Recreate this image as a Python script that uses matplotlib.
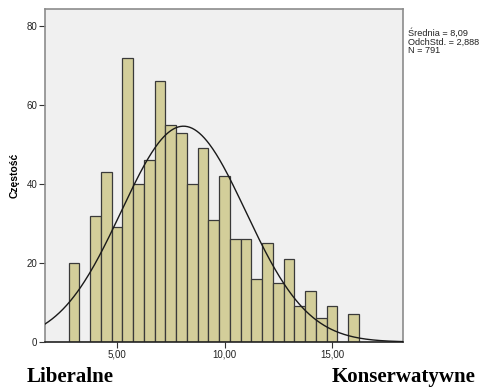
import numpy as np
import matplotlib.pyplot as plt

centers = [3.0, 3.5, 4.0, 4.5, 5.0, 5.5, 6.0, 6.5, 7.0, 7.5, 8.0, 8.5, 9.0,
           9.5, 10.0, 10.5, 11.0, 11.5, 12.0, 12.5, 13.0, 13.5, 14.0, 14.5,
           15.0, 15.5, 16.0]
counts = [20, 0, 32, 43, 29, 72, 40, 46, 66, 55, 53, 40, 49,
          31, 42, 26, 26, 16, 25, 15, 21, 9, 13, 6,
          9, 0, 7]
mean = 8.09
sd = 2.888
n = 791
bin_w = 0.5

fig = plt.figure(figsize=(4.83, 3.89), dpi=100)
ax = fig.add_axes([45 / 483, 1 - 342 / 389, 358 / 483, 333 / 389])
ax.set_facecolor("#f0f0f0")

ax.bar(centers, counts, width=bin_w, color="#d3ce9a", edgecolor="#3a3a3a",
       linewidth=0.9, zorder=2)

# normal curve scaled to counts
x = np.linspace(1.65, 18.3, 300)
y = n * bin_w / (sd * np.sqrt(2 * np.pi)) * np.exp(-0.5 * ((x - mean) / sd) ** 2)
ax.plot(x, y, color="#1a1a1a", linewidth=1.0, zorder=3)

ax.set_xlim(1.65, 18.3)
ax.set_ylim(0, 84.3)
ax.set_xticks([5, 10, 15])
ax.set_xticklabels(["5,00", "10,00", "15,00"])
ax.set_yticks([0, 20, 40, 60, 80])
ax.tick_params(axis="both", labelsize=7, length=4, width=0.8, color="#333333",
               labelcolor="#222222", pad=1.5)
for s in ["top", "right", "left"]:
    ax.spines[s].set_color("#8c8c8c")
    ax.spines[s].set_linewidth(1.2)
ax.spines["bottom"].set_color("#222222")
ax.spines["bottom"].set_linewidth(1.2)
for lab in ax.get_xticklabels() + ax.get_yticklabels():
    lab.set_family("Liberation Sans")

ax.set_ylabel("Częstość", fontsize=7.5, fontweight="bold", family="Liberation Sans",
              labelpad=5)

fig.text(408 / 483, 1 - 28 / 389,
         "Średnia = 8,09\nOdchStd. = 2,888\nN = 791",
         fontsize=6.6, family="Liberation Sans", va="top", ha="left",
         linespacing=0.95, color="#222222")

fig.text(27 / 483, 0.005, "Liberalne", fontsize=15,
         family="Liberation Serif", fontweight="bold", va="bottom", ha="left")
fig.text(476 / 483, 0.005, "Konserwatywne", fontsize=15,
         family="Liberation Serif", fontweight="bold", va="bottom", ha="right")

fig.savefig("out.png", dpi=100)
